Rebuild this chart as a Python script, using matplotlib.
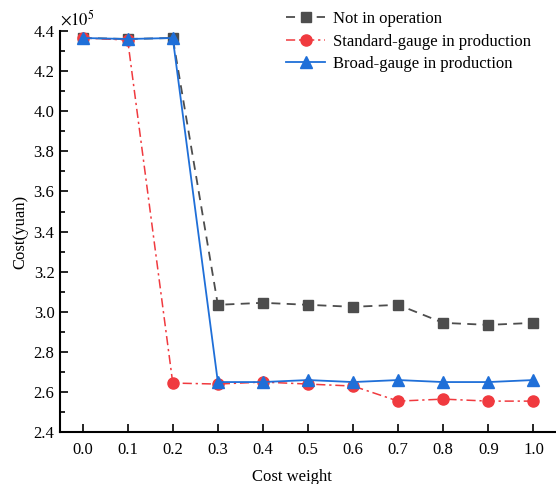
import matplotlib
matplotlib.use("Agg")
import matplotlib.pyplot as plt
from matplotlib.ticker import MultipleLocator, FormatStrFormatter

plt.rcParams['font.family'] = ['Liberation Serif', 'DejaVu Serif']
plt.rcParams['mathtext.fontset'] = 'stix'

weights = [0.0, 0.1, 0.2, 0.3, 0.4, 0.5, 0.6, 0.7, 0.8, 0.9, 1.0]
not_in_operation = [4.365, 4.36, 4.365, 3.035, 3.045, 3.035, 3.025, 3.035, 2.945, 2.935, 2.945]
standard_gauge = [4.365, 4.355, 2.645, 2.64, 2.65, 2.64, 2.63, 2.555, 2.565, 2.555, 2.555]
broad_gauge = [4.365, 4.36, 4.365, 2.65, 2.65, 2.66, 2.65, 2.66, 2.65, 2.65, 2.66]
labels = ["Not in operation", "Standard-gauge in production", "Broad-gauge in production"]

fig = plt.figure(figsize=(5.56, 4.84), dpi=100)
ax = fig.add_axes([0.108, 0.107, 0.892, 0.829])

ax.plot(weights, not_in_operation, color='#4d4d4d', linestyle=(0, (5, 3.5)), linewidth=1.3,
        marker='s', markersize=7, label=labels[0])
ax.plot(weights, standard_gauge, color='#f03a3f', linestyle=(0, (6, 2.5, 1.5, 2.5)), linewidth=1.1,
        marker='o', markersize=8, label=labels[1])
ax.plot(weights, broad_gauge, color='#1f6fd8', linestyle='-', linewidth=1.3,
        marker='^', markersize=8, label=labels[2])

ax.set_xlim(-0.05, 1.05)
ax.set_ylim(2.4, 4.4)
ax.set_xticks(weights)
ax.xaxis.set_major_formatter(FormatStrFormatter('%.1f'))
ax.yaxis.set_major_locator(MultipleLocator(0.2))
ax.yaxis.set_minor_locator(MultipleLocator(0.1))
ax.yaxis.set_major_formatter(FormatStrFormatter('%.1f'))
ax.tick_params(axis='both', which='major', direction='in', length=6, width=1.2, labelsize=12, pad=7)
ax.tick_params(axis='y', which='minor', direction='in', length=3.5, width=1.2)
ax.tick_params(axis='y', pad=4)
for s in ['top', 'right']:
    ax.spines[s].set_visible(False)
for s in ['left', 'bottom']:
    ax.spines[s].set_linewidth(1.5)

ax.set_xlabel('Cost weight', fontsize=12)
ax.xaxis.set_label_coords(0.468, -0.092)
ax.set_ylabel('Cost(yuan)', fontsize=12, labelpad=4)
ax.text(0.0, 1.005, r'$\times10^5$', transform=ax.transAxes, fontsize=12, ha='left', va='bottom')

ax.legend(loc='upper right', bbox_to_anchor=(0.97, 1.075), frameon=False, fontsize=12,
          handlelength=2.3, labelspacing=0.4, borderaxespad=0.2, handletextpad=0.5)

fig.savefig('out.png', dpi=100)
